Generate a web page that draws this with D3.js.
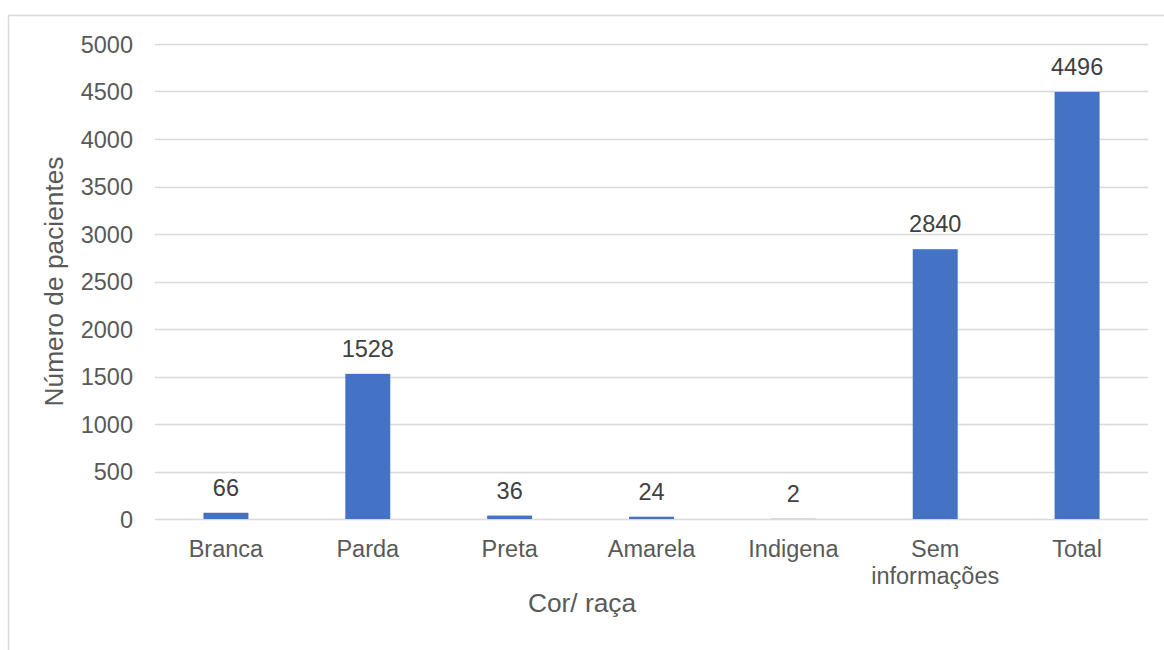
<!DOCTYPE html>
<html>
<head>
<meta charset="utf-8">
<script src="https://cdn.jsdelivr.net/npm/d3@7"></script>
<style>
  body { margin: 0; background: #fff; }
  text { font-family: "Liberation Sans", Arial, sans-serif; }
</style>
</head>
<body>
<div id="chart"></div>
<script>
// data
const categories = ["Branca", "Parda", "Preta", "Amarela", "Indigena", "Sem informações", "Total"];
const patients = [66, 1528, 36, 24, 2, 2840, 4496];
const yTicks = [0, 500, 1000, 1500, 2000, 2500, 3000, 3500, 4000, 4500, 5000];

const fullWidth = 1164;
const fullHeight = 650;
const margin = { top: 44, right: 16, bottom: 131, left: 155 };
const width = fullWidth - margin.left - margin.right;   // 993
const height = fullHeight - margin.top - margin.bottom; // 475

const svg = d3.select("#chart").append("svg")
    .attr("width", fullWidth)
    .attr("height", fullHeight);

// chart area border (runs off right and bottom edges)
svg.append("rect")
    .attr("x", 8.5)
    .attr("y", 15.5)
    .attr("width", fullWidth)
    .attr("height", fullHeight)
    .attr("fill", "none")
    .attr("stroke", "#d9d9d9")
    .attr("stroke-width", 1.5);

const g = svg.append("g")
    .attr("transform", `translate(${margin.left},${margin.top})`);

const x = d3.scaleBand()
    .domain(categories)
    .range([0, width])
    .paddingInner(0.683)
    .paddingOuter(0.683 / 2);

const y = d3.scaleLinear()
    .domain([0, 5000])
    .range([height, 0]);

// gridlines
g.append("g")
    .selectAll("line")
    .data(yTicks)
    .join("line")
    .attr("x1", 0)
    .attr("x2", width)
    .attr("y1", d => Math.round(y(d)) + 0.5)
    .attr("y2", d => Math.round(y(d)) + 0.5)
    .attr("stroke", "#d9d9d9")
    .attr("stroke-width", 1.3);

// y axis labels
const yAxis = d3.axisLeft(y)
    .tickValues(yTicks)
    .tickFormat(d3.format("d"))
    .tickSize(0)
    .tickPadding(22);
g.append("g")
    .call(yAxis)
    .call(a => a.select(".domain").remove())
    .selectAll("text")
    .attr("fill", "#595959")
    .style("font-size", "23.5px")
    .attr("dy", "0.36em");

// bars
g.selectAll(".bar")
    .data(patients)
    .join("rect")
    .attr("class", "bar")
    .attr("x", (d, i) => x(categories[i]))
    .attr("width", x.bandwidth())
    .attr("y", d => y(d))
    .attr("height", d => height - y(d))
    .attr("fill", "#4472c4");

// value labels
g.selectAll(".value-label")
    .data(patients)
    .join("text")
    .attr("class", "value-label")
    .attr("x", (d, i) => x(categories[i]) + x.bandwidth() / 2)
    .attr("y", d => y(d) - 17)
    .attr("text-anchor", "middle")
    .attr("fill", "#404040")
    .style("font-size", "23.5px")
    .text(d => d);

// category labels (wrapped)
const xAxis = d3.axisBottom(x).tickSize(0).tickPadding(0);
const gX = g.append("g")
    .attr("transform", `translate(0,${height})`)
    .call(xAxis);
gX.select(".domain").remove();
gX.selectAll("text").each(function(d) {
    const t = d3.select(this);
    const words = d.split(" ");
    t.text(null)
        .attr("y", 0)
        .attr("dy", null)
        .attr("fill", "#595959")
        .style("font-size", "23.5px");
    words.forEach((w, i) => {
        t.append("tspan")
            .attr("x", 0)
            .attr("y", 38 + i * 27)
            .text(w);
    });
});

// axis titles
svg.append("text")
    .attr("x", 582)
    .attr("y", 612)
    .attr("text-anchor", "middle")
    .attr("fill", "#595959")
    .style("font-size", "26.3px")
    .text("Cor/ raça");

svg.append("text")
    .attr("transform", `translate(63,${margin.top + height / 2}) rotate(-90)`)
    .attr("text-anchor", "middle")
    .attr("fill", "#595959")
    .style("font-size", "26.3px")
    .text("Número de pacientes");
</script>
</body>
</html>
